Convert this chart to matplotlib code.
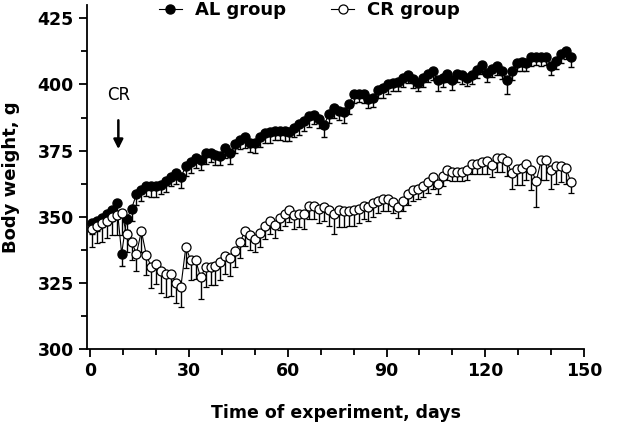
import numpy as np
import matplotlib
matplotlib.use("Agg")
import matplotlib.pyplot as plt
from matplotlib.ticker import MultipleLocator
from matplotlib.lines import Line2D

# sampling days (shared by both groups)
days = [0.5, 2, 3.5, 5, 6.5, 8, 9.5, 11, 12.5, 14,
        15.5, 17, 18.5, 20, 21.5, 23, 24.5, 26, 27.5, 29,
        30.5, 32, 33.5, 35, 36.5, 38, 39.5, 41, 42.5, 44,
        45.5, 47, 48.5, 50, 51.5, 53, 54.5, 56, 57.5, 59,
        60.5, 62, 63.5, 65, 66.5, 68, 69.5, 71, 72.5, 74,
        75.5, 77, 78.5, 80, 81.5, 83, 84.5, 86, 87.5, 89,
        90.5, 92, 93.5, 95, 96.5, 98, 99.5, 101, 102.5, 104,
        105.5, 107, 108.5, 110, 111.5, 113, 114.5, 116, 117.5, 119,
        120.5, 122, 123.5, 125, 126.5, 128, 129.5, 131, 132.5, 134,
        135.5, 137, 138.5, 140, 141.5, 143, 144.5, 146]

al_mean = [347.5, 348.5, 349.5, 351, 352.5, 355, 336, 349, 353, 358.5,
           360, 361.5, 361.5, 361.5, 362, 363.5, 365, 366.5, 365, 369,
           370.5, 372, 371.5, 374, 374, 373.5, 373, 376, 374, 377.5,
           379, 380, 378, 378, 380, 381.5, 382, 382.5, 382.5, 382.5,
           382, 383.5, 385, 386, 388, 388.5, 387, 384.5, 389, 391,
           390, 389.5, 392.5, 396.5, 396.5, 396.5, 394.5, 395, 398, 398.5,
           400, 400.5, 401, 402.5, 403.5, 402, 400.5, 402.5, 404, 405,
           401.5, 402.5, 404, 401.5, 404, 403.5, 402.5, 403.5, 405.5, 407.5,
           404.5, 406, 407, 405, 401.5, 405, 408, 408.5, 408, 410.5,
           410.5, 410.5, 410.5, 407, 409, 411.5, 412.5, 410.5]

al_err = [4, 4, 3.5, 4, 4, 4, 4.5, 4, 4.5, 4,
          4, 3.5, 4, 4, 3.5, 4, 3.5, 4, 4, 3.5,
          4, 3.5, 4, 4, 3.5, 4, 3.5, 4, 4, 3.5,
          3.5, 4, 3.5, 4, 3.5, 3.5, 4, 3.5, 3.5, 4,
          3.5, 3.5, 4, 3.5, 4, 3.5, 3.5, 4.5, 3.5, 3.5,
          3.5, 4, 3.5, 3.5, 3, 3.5, 3.5, 3.5, 3, 3.5,
          3.5, 3, 3.5, 3.5, 3, 3.5, 3, 3.5, 3, 3.5,
          4, 3.5, 3, 3.5, 3, 3.5, 3, 3.5, 3, 3.5,
          3.5, 3, 3.5, 3, 5, 3.5, 3, 3.5, 3, 3.5,
          3, 3.5, 3, 3.5, 3, 3.5, 3, 4]

cr_mean = [345.5, 346.5, 347.5, 348.5, 350, 350.5, 351.5, 343.5, 340.5, 336,
           344.5, 335.5, 331, 332, 329.5, 328.5, 328.5, 325, 323.5, 338.5,
           333.5, 333.5, 327, 331, 331, 331.5, 333, 335, 334.5, 337,
           340.5, 344.5, 343, 341.5, 344, 346.5, 348.5, 347, 349.5, 351,
           352.5, 350.5, 351, 351, 354, 354, 353, 353.5, 352.5, 351,
           352.5, 352, 352, 352.5, 353, 354, 353.5, 355, 356, 356.5,
           356.5, 355.5, 353.5, 356, 358.5, 360, 360.5, 361.5, 363, 365,
           362.5, 365.5, 367.5, 367, 367, 367, 367.5, 370, 370, 370.5,
           371, 369.5, 372, 372, 371, 366.5, 368, 368.5, 370, 367.5,
           363.5, 371.5, 371.5, 367.5, 369, 369, 368.5, 363]

cr_err = [7, 6.5, 7, 6.5, 7, 7.5, 8.5, 7, 7, 6.5,
          8, 7.5, 8, 7.5, 8.5, 9, 8.5, 7.5, 7.5, 8,
          7.5, 7, 8, 7.5, 7, 7.5, 7, 6.5, 7, 6,
          6, 5.5, 5.5, 5, 5.5, 5, 5, 5, 4.5, 4.5,
          4.5, 5, 5, 5.5, 5, 5, 5.5, 5, 6, 7.5,
          6.5, 6, 5.5, 6, 5.5, 5, 5, 5, 4.5, 4.5,
          4.5, 4, 4, 4, 4, 4, 4, 4, 4, 4.5,
          4, 4, 3.5, 3.5, 3.5, 3.5, 3.5, 4, 4, 4.5,
          5, 4.5, 5, 5, 5.5, 6, 6, 6.5, 6, 7.5,
          10, 7.5, 7.5, 7, 6.5, 6, 6, 4]

plt.rcParams['font.family'] = ['DejaVu Sans']

fig = plt.figure(figsize=(6.22, 4.26), dpi=100)
ax = fig.add_axes([0.14, 0.181, 0.799, 0.807])

zero = np.zeros(len(days))
ax.errorbar(days, al_mean, yerr=[al_err, zero], fmt='-o', color='black',
            ms=6.5, mfc='black', mec='black', lw=0.8, elinewidth=1.0,
            capsize=2, capthick=1.0, zorder=3)
ax.errorbar(days, cr_mean, yerr=[cr_err, zero], fmt='-o', color='black',
            ms=6.5, mfc='white', mec='black', mew=0.9, lw=0.8, elinewidth=1.0,
            capsize=2, capthick=1.0, zorder=3)

ax.set_xlim(-1, 150)
ax.set_ylim(300, 430)
ax.xaxis.set_major_locator(MultipleLocator(30))
ax.xaxis.set_minor_locator(MultipleLocator(10))
ax.yaxis.set_minor_locator(MultipleLocator(12.5))
ax.set_yticks([300, 325, 350, 375, 400, 425])

for s in ['top', 'right']:
    ax.spines[s].set_visible(False)
for s in ['left', 'bottom']:
    ax.spines[s].set_linewidth(1.3)
ax.tick_params(which='major', direction='out', length=6, width=1.3, labelsize=12.5)
ax.tick_params(which='minor', direction='out', length=4, width=1.3)
for lab in ax.get_xticklabels() + ax.get_yticklabels():
    lab.set_fontweight('bold')

ax.set_xlabel('Time of experiment, days', fontsize=12.5, fontweight='bold', labelpad=17)
ax.set_ylabel('Body weight, g', fontsize=13, fontweight='bold', labelpad=13)

# CR start marker
ax.annotate('', xy=(8.5, 374.5), xytext=(8.5, 387.5),
            arrowprops=dict(arrowstyle='-|>', color='black', lw=1.8,
                            mutation_scale=14))
ax.text(8.5, 392.5, 'CR', ha='center', va='bottom', fontsize=12)

handles = [Line2D([], [], color='black', lw=0.8, marker='o', ms=6.5,
                  mfc='black', mec='black'),
           Line2D([], [], color='black', lw=0.8, marker='o', ms=6.5,
                  mfc='white', mec='black', mew=0.9)]
labels = ['AL group', 'CR group']
ax.legend(handles, labels, loc='center', bbox_to_anchor=(0.447, 0.985),
          ncol=2, frameon=False, prop={'weight': 'bold', 'size': 13},
          columnspacing=2.5, handlelength=1.3, handletextpad=0.7,
          borderaxespad=0, borderpad=0)

fig.savefig('out.png', dpi=100)
